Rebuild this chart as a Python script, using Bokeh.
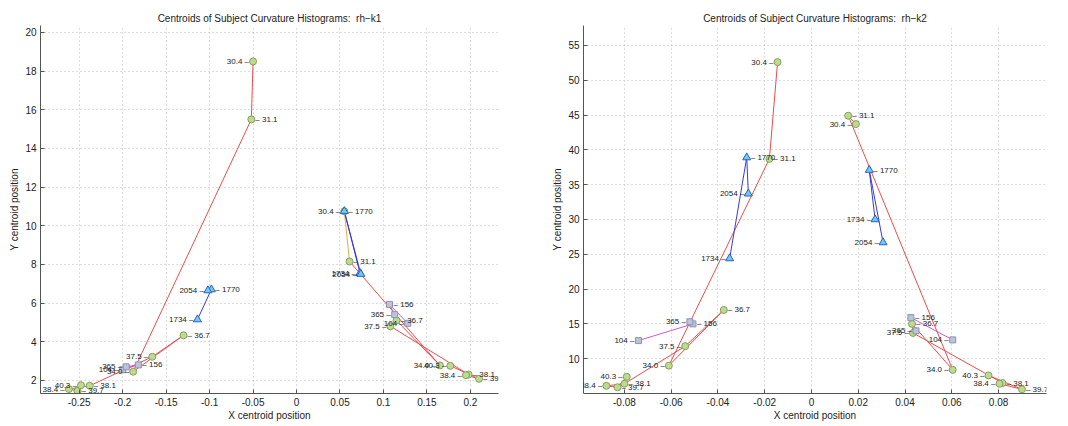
from bokeh.plotting import figure
from bokeh.layouts import row
from bokeh.models import Range1d, FixedTicker, LabelSet, ColumnDataSource
from bokeh.embed import file_html
from bokeh.resources import INLINE
from bokeh.core.properties import value

# ---------------- data ----------------
age_labels = ["30.4", "31.1", "34.0", "36.7", "37.5", "38.1", "38.4", "39.7", "40.3"]
day_labels = ["1734", "1770", "2054"]
week_labels = ["104", "156", "365"]

# rh-k1, negative-x cluster
k1a_age_x = [-0.050, -0.052, -0.188, -0.130, -0.166, -0.238, -0.262, -0.252, -0.248]
k1a_age_y = [18.5, 15.5, 2.45, 4.33, 3.22, 1.72, 1.55, 1.45, 1.75]
k1a_day_x = [-0.114, -0.098, -0.102]
k1a_day_y = [5.15, 6.70, 6.65]
k1a_week_x = [-0.200, -0.182, -0.196]
k1a_week_y = [2.55, 2.80, 2.70]
# rh-k1, positive-x cluster
k1b_age_x = [0.055, 0.061, 0.165, 0.115, 0.108, 0.198, 0.195, 0.210, 0.177]
k1b_age_y = [10.75, 8.15, 2.77, 5.10, 4.80, 2.30, 2.27, 2.08, 2.75]
k1b_day_x = [0.073, 0.055, 0.074]
k1b_day_y = [7.55, 10.75, 7.50]
k1b_week_x = [0.128, 0.107, 0.113]
k1b_week_y = [4.95, 5.93, 5.40]

# rh-k2, negative-x cluster
k2a_age_x = [-0.0145, -0.018, -0.061, -0.0375, -0.054, -0.080, -0.0877, -0.083, -0.079]
k2a_age_y = [52.6, 38.7, 9.0, 17.0, 11.8, 6.4, 6.1, 5.9, 7.4]
k2a_day_x = [-0.035, -0.0277, -0.027]
k2a_day_y = [24.4, 38.9, 33.7]
k2a_week_x = [-0.074, -0.0507, -0.052]
k2a_week_y = [12.6, 15.0, 15.3]
# rh-k2, positive-x cluster
k2b_age_x = [0.019, 0.0157, 0.0604, 0.043, 0.0434, 0.0817, 0.0804, 0.090, 0.0757]
k2b_age_y = [43.7, 44.9, 8.4, 15.0, 13.7, 6.5, 6.4, 5.6, 7.6]
k2b_day_x = [0.0272, 0.0247, 0.0306]
k2b_day_y = [30.0, 37.1, 26.7]
k2b_week_x = [0.0604, 0.0425, 0.0447]
k2b_week_y = [12.7, 15.9, 14.0]

k1_xticks = [-0.25, -0.2, -0.15, -0.1, -0.05, 0, 0.05, 0.1, 0.15, 0.2]
k1_xtick_labels = ["-0.25", "-0.2", "-0.15", "-0.1", "-0.05", "0", "0.05", "0.1", "0.15", "0.2"]
k1_yticks = [2, 4, 6, 8, 10, 12, 14, 16, 18, 20]
k2_xticks = [-0.08, -0.06, -0.04, -0.02, 0, 0.02, 0.04, 0.06, 0.08]
k2_xtick_labels = ["-0.08", "-0.06", "-0.04", "-0.02", "0", "0.02", "0.04", "0.06", "0.08"]
k2_yticks = [10, 15, 20, 25, 30, 35, 40, 45, 50, 55]

# ---------------- style ----------------
FONT = "Liberation Sans"
age_side = ["L", "R", "L", "R", "L", "R", "L", "R", "L"]
day_side = ["L", "R", "L"]
week_side = ["L", "R", "L"]
RED = "#ee4b4b"
ORANGE = "#e8a850"
BLUE = "#3a3ad0"
MAGENTA = "#cc5acc"
NB = "\u00a0"


def make_fig(title, xr, yr, xticks, xlabels, yticks, left, right, top):
    p = figure(width=534, height=426, x_range=Range1d(*xr), y_range=Range1d(*yr),
               output_backend="svg", toolbar_location=None,
               min_border_left=left, min_border_right=right,
               min_border_top=top, min_border_bottom=33)
    p.title.text = title
    p.title.align = "center"
    p.title.text_font = FONT
    p.title.text_font_size = "10px"
    p.title.text_font_style = "normal"
    p.title.text_color = "#222222"
    p.title.standoff = 4
    p.outline_line_color = None
    p.background_fill_color = "white"
    p.border_fill_color = "white"
    p.xaxis.ticker = FixedTicker(ticks=xticks)
    p.xaxis.major_label_overrides = {t: l for t, l in zip(xticks, xlabels)}
    p.yaxis.ticker = FixedTicker(ticks=yticks)
    p.yaxis.major_label_overrides = {t: str(t) for t in yticks}
    p.xaxis.axis_label = "X centroid position"
    p.yaxis.axis_label = "Y centroid position"
    for ax in (p.xaxis, p.yaxis):
        ax.axis_line_color = "#555555"
        ax.major_tick_line_color = "#555555"
        ax.major_tick_in = 4
        ax.major_tick_out = 0
        ax.minor_tick_line_color = None
        ax.major_label_text_font = FONT
        ax.major_label_text_font_size = "10px"
        ax.major_label_text_color = "#222222"
        ax.axis_label_text_font = FONT
        ax.axis_label_text_font_size = "10px"
        ax.axis_label_text_font_style = "normal"
        ax.axis_label_text_color = "#222222"
    p.xaxis.major_label_standoff = 4
    p.xaxis.axis_label_standoff = 1
    p.yaxis.major_label_standoff = 4
    p.yaxis.axis_label_standoff = 2
    for g in (p.xgrid, p.ygrid):
        g.grid_line_color = "#bbbbbb"
        g.grid_line_dash = "1 3"
        g.grid_line_width = 1
    p.xgrid.ticker = FixedTicker(ticks=xticks)
    p.ygrid.ticker = FixedTicker(ticks=yticks)
    return p


def draw_lines(p, xs, ys, color, special=None):
    cols = [color] * (len(xs) - 1)
    if special:
        for i, c in special.items():
            cols[i] = c
    p.segment(x0=xs[:-1], y0=ys[:-1], x1=xs[1:], y1=ys[1:], line_color=cols, line_width=1)


def draw_marks(p, xs, ys, marker, fill, edge, size):
    p.scatter(xs, ys, marker=marker, size=size, fill_color=fill, line_color=edge, line_width=1)


def draw_labels(p, xs, ys, labels, sides):
    common = dict(text_font=value(FONT), text_font_size="8px", text_color="#222222",
                  text_baseline="middle")
    for side, align, off in (("L", "right", -4), ("R", "left", 4)):
        sx = [x for x, s in zip(xs, sides) if s == side]
        sy = [y for y, s in zip(ys, sides) if s == side]
        if side == "L":
            st = [t + " \u2013" for t, s in zip(labels, sides) if s == side]
        else:
            st = ["\u2013 " + t for t, s in zip(labels, sides) if s == side]
        src = ColumnDataSource(dict(x=sx, y=sy, t=st))
        p.add_layout(LabelSet(x="x", y="y", text="t", source=src, text_align=align,
                              x_offset=off, **common))


def draw_cluster(p, ax, ay, dx, dy, wx, wy, age_special=None):
    draw_lines(p, ax, ay, RED, age_special)
    draw_lines(p, wx, wy, MAGENTA)
    draw_lines(p, dx, dy, BLUE)
    draw_marks(p, ax, ay, "circle", "#b9dc8e", "#8c9c60", 7)
    draw_marks(p, wx, wy, "square", "#b4c8d8", "#9a8cb4", 6)
    draw_marks(p, dx, dy, "triangle", "#6ccdf0", "#2d5ec4", 8)
    draw_labels(p, ax, ay, age_labels, age_side)
    draw_labels(p, dx, dy, day_labels, day_side)
    draw_labels(p, wx, wy, week_labels, week_side)


p1 = make_fig("Centroids of Subject Curvature Histograms:" + NB + NB + "rh\u2212k1",
              (-0.2946, 0.2324), (1.32, 20.36),
              k1_xticks, k1_xtick_labels, k1_yticks, 40, 36, 25)
draw_cluster(p1, k1a_age_x, k1a_age_y, k1a_day_x, k1a_day_y, k1a_week_x, k1a_week_y)
draw_cluster(p1, k1b_age_x, k1b_age_y, k1b_day_x, k1b_day_y, k1b_week_x, k1b_week_y, {0: ORANGE})

p2 = make_fig("Centroids of Subject Curvature Histograms:" + NB + NB + "rh\u2212k2",
              (-0.0975, 0.1005), (5.0, 57.86),
              k2_xticks, k2_xtick_labels, k2_yticks, 49, 22, 23)
draw_cluster(p2, k2a_age_x, k2a_age_y, k2a_day_x, k2a_day_y, k2a_week_x, k2a_week_y)
draw_cluster(p2, k2b_age_x, k2b_age_y, k2b_day_x, k2b_day_y, k2b_week_x, k2b_week_y)

layout = row(p1, p2)
open("out.html", "w").write(file_html(layout, INLINE))
